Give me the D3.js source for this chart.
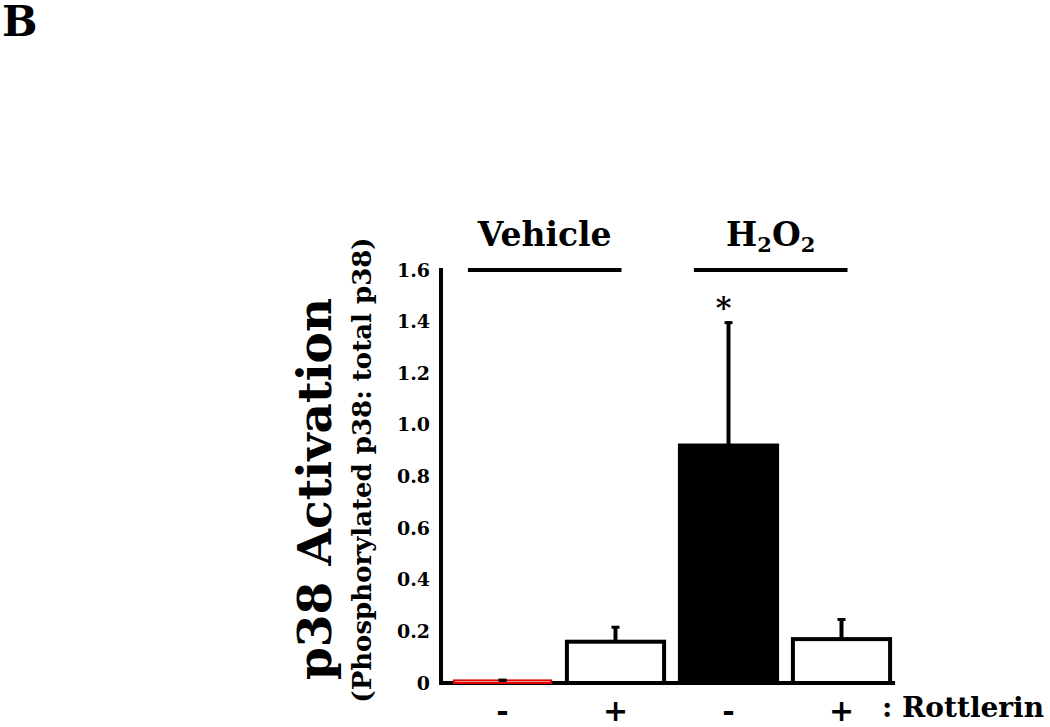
<!DOCTYPE html>
<html>
<head>
<meta charset="utf-8">
<script src="https://cdn.jsdelivr.net/npm/d3@7"></script>
<style>
  body { margin: 0; background: #fff; }
  text { font-family: "DejaVu Serif", "Liberation Serif", serif; font-weight: bold; fill: #000; }
</style>
</head>
<body>
<svg id="chart" width="1050" height="727"></svg>
<script>
// data
const conditions = ['veh-', 'veh+', 'h2o2-', 'h2o2+'];
const rottlerinLabels = ['-', '+', '-', '+'];
const means = [0.01, 0.16, 0.92, 0.17];
const errors = [0.005, 0.06, 0.48, 0.08];
const yTicks = [0, 0.2, 0.4, 0.6, 0.8, 1.0, 1.2, 1.4, 1.6];
const yTickLabels = ['0', '0.2', '0.4', '0.6', '0.8', '1.0', '1.2', '1.4', '1.6'];
const fills = ['#fff', '#fff', '#000', '#fff'];
const strokes = ['#e00000', '#000', '#000', '#000'];
const strokeWidths = [2, 4, 4, 4];

const svg = d3.select('#chart');

const x = d3.scaleBand().domain(conditions).range([446, 898])
    .paddingInner(0.14).paddingOuter(0.07);
const y = d3.scaleLinear().domain([0, 1.6]).range([683, 270]);

// panel letter
svg.append('text')
    .attr('x', 2).attr('y', 36)
    .attr('font-size', '42px')
    .text('B');

// y axis
const yAxis = d3.axisLeft(y)
    .tickValues(yTicks)
    .tickFormat((d, i) => yTickLabels[i])
    .tickSize(0)
    .tickPadding(11);

const gy = svg.append('g')
    .attr('transform', 'translate(441,0)')
    .call(yAxis);
gy.select('.domain').attr('stroke', '#000').attr('stroke-width', 4)
    .attr('d', `M0,${y(1.6) - 2}V${y(0)}`);
gy.selectAll('text')
    .style('font-family', '"DejaVu Serif", serif')
    .style('font-weight', 'bold')
    .style('font-size', '19px');

// baseline
svg.append('line')
    .attr('x1', 439).attr('x2', x('h2o2+') + x.bandwidth() + 5)
    .attr('y1', y(0)).attr('y2', y(0))
    .attr('stroke', '#000').attr('stroke-width', 4);

// error bars (upper only)
conditions.forEach((c, i) => {
    const cx = x(c) + x.bandwidth() / 2;
    svg.append('line')
        .attr('x1', cx).attr('x2', cx)
        .attr('y1', y(means[i])).attr('y2', y(means[i] + errors[i]))
        .attr('stroke', '#000').attr('stroke-width', 4);
    svg.append('line')
        .attr('x1', cx - 4).attr('x2', cx + 4)
        .attr('y1', y(means[i] + errors[i]) + 1).attr('y2', y(means[i] + errors[i]) + 1)
        .attr('stroke', '#000').attr('stroke-width', 3);
});

// bars
svg.selectAll('.bar')
    .data(conditions)
    .enter().append('rect')
    .attr('class', 'bar')
    .attr('x', d => x(d))
    .attr('y', (d, i) => y(means[i]))
    .attr('width', x.bandwidth())
    .attr('height', (d, i) => y(0) - y(means[i]))
    .attr('fill', (d, i) => fills[i])
    .attr('stroke', (d, i) => strokes[i])
    .attr('stroke-width', (d, i) => strokeWidths[i]);

// small error mark on top of the red bar
{
    const cx = x('veh-') + x.bandwidth() / 2;
    svg.append('line')
        .attr('x1', cx - 4).attr('x2', cx + 4)
        .attr('y1', y(means[0])).attr('y2', y(means[0]))
        .attr('stroke', '#000').attr('stroke-width', 3);
}

// x labels
conditions.forEach((c, i) => {
    svg.append('text')
        .attr('x', x(c) + x.bandwidth() / 2)
        .attr('y', 721)
        .attr('text-anchor', 'middle')
        .attr('font-size', '30px')
        .text(rottlerinLabels[i]);
});
svg.append('text')
    .attr('x', 882).attr('y', 717)
    .attr('font-size', '28px')
    .text(': Rottlerin');

// group labels with lines
const groups = [
    { label: 'Vehicle', from: 'veh-', to: 'veh+' },
    { label: 'H2O2', from: 'h2o2-', to: 'h2o2+' }
];
groups.forEach(g => {
    const x1 = x(g.from) + 14;
    const x2 = x(g.to) + x.bandwidth() / 2 + 6;
    svg.append('line')
        .attr('x1', x1).attr('x2', x2)
        .attr('y1', 270).attr('y2', 270)
        .attr('stroke', '#000').attr('stroke-width', 4);
    const t = svg.append('text')
        .attr('x', (x1 + x2) / 2)
        .attr('y', 246)
        .attr('text-anchor', 'middle')
        .attr('font-size', '33px');
    if (g.label === 'H2O2') {
        t.append('tspan').text('H');
        t.append('tspan').attr('font-size', '21px').attr('dy', 6).text('2');
        t.append('tspan').attr('dy', -6).text('O');
        t.append('tspan').attr('font-size', '21px').attr('dy', 6).text('2');
    } else {
        t.text(g.label);
    }
});

// significance star
svg.append('text')
    .attr('x', x('h2o2-') + x.bandwidth() / 2 - 5)
    .attr('y', 318)
    .attr('text-anchor', 'middle')
    .attr('font-size', '30px')
    .text('*');

// y axis titles
svg.append('text')
    .attr('transform', 'translate(331,489) rotate(-90)')
    .attr('text-anchor', 'middle')
    .attr('font-size', '47px')
    .text('p38 Activation');
svg.append('text')
    .attr('transform', 'translate(371,470) rotate(-90)')
    .attr('text-anchor', 'middle')
    .attr('font-size', '26px')
    .text('(Phosphorylated p38: total p38)');
</script>
</body>
</html>
